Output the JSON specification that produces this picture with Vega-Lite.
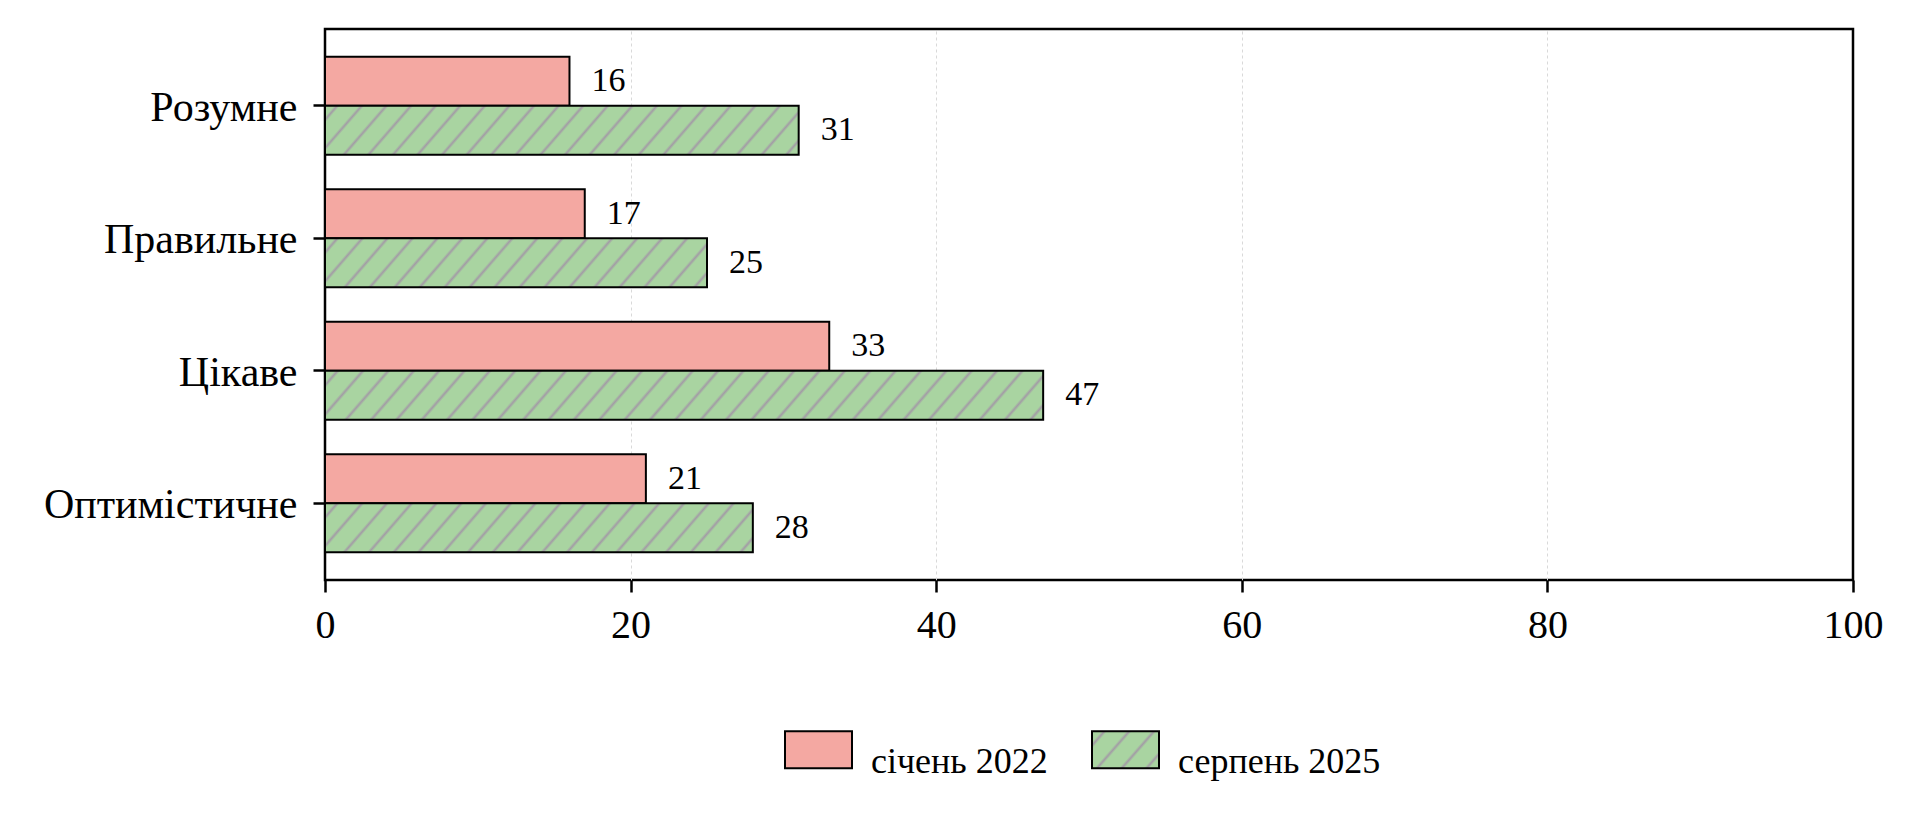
{
  "$schema": "https://vega.github.io/schema/vega-lite/v6.json",
  "width": 1528,
  "height": 551,
  "autosize": {"type": "none"},
  "padding": {"left": 325, "top": 29, "right": 61, "bottom": 242},
  "background": "white",
  "config": {
    "font": "Liberation Serif",
    "view": {"stroke": "black", "strokeWidth": 2.5},
    "axis": {"labelFont": "Liberation Serif", "labelColor": "black", "tickColor": "black", "tickWidth": 2.5, "tickSize": 12, "domain": false, "title": null, "labelLimit": 600}
  },
  "data": {"values": [
    {"category": "Розумне", "series": "січень 2022", "value": 16},
    {"category": "Розумне", "series": "серпень 2025", "value": 31},
    {"category": "Правильне", "series": "січень 2022", "value": 17},
    {"category": "Правильне", "series": "серпень 2025", "value": 25},
    {"category": "Цікаве", "series": "січень 2022", "value": 33},
    {"category": "Цікаве", "series": "серпень 2025", "value": 47},
    {"category": "Оптимістичне", "series": "січень 2022", "value": 21},
    {"category": "Оптимістичне", "series": "серпень 2025", "value": 28}
  ]},
  "encoding": {
    "y": {"field": "category", "type": "nominal", "sort": ["Розумне", "Правильне", "Цікаве", "Оптимістичне"],
      "scale": {"paddingInner": 0.26, "paddingOuter": 0.209},
      "axis": {"labelFontSize": 42, "labelPadding": 16, "grid": false, "labelOffset": 2}},
    "yOffset": {"field": "series", "type": "nominal", "sort": ["січень 2022", "серпень 2025"], "scale": {"paddingInner": 0, "paddingOuter": 0}},
    "x": {"field": "value", "type": "quantitative", "scale": {"domain": [0, 100], "nice": false},
      "axis": {"values": [0, 20, 40, 60, 80, 100], "labelFontSize": 40, "labelPadding": 13, "grid": true, "gridColor": "#d9d9d9", "gridDash": [3, 3], "gridWidth": 1, "labelFlush": false,
        "gridOpacity": {"condition": {"test": "datum.value === 0 || datum.value === 100", "value": 0}, "value": 1}}}
  },
  "layer": [
    {
      "mark": {"type": "bar", "stroke": "black", "strokeWidth": 2, "opacity": 1},
      "encoding": {
        "fill": {
          "condition": [
            {"test": "datum.series === 'серпень 2025' && datum.category === 'Розумне'", "value": {"gradient": "linear", "x1": 0, "y1": 0, "x2": 1.0812, "y2": 0.0972, "stops": [
              {"offset": 0.0181, "color": "#a9d4a1"}, {"offset": 0.0238, "color": "#a39ba6"}, {"offset": 0.0295, "color": "#a9d4a1"},
              {"offset": 0.0657, "color": "#a9d4a1"}, {"offset": 0.0714, "color": "#a39ba6"}, {"offset": 0.0771, "color": "#a9d4a1"},
              {"offset": 0.1133, "color": "#a9d4a1"}, {"offset": 0.1190, "color": "#a39ba6"}, {"offset": 0.1248, "color": "#a9d4a1"},
              {"offset": 0.1610, "color": "#a9d4a1"}, {"offset": 0.1667, "color": "#a39ba6"}, {"offset": 0.1724, "color": "#a9d4a1"},
              {"offset": 0.2086, "color": "#a9d4a1"}, {"offset": 0.2143, "color": "#a39ba6"}, {"offset": 0.2200, "color": "#a9d4a1"},
              {"offset": 0.2562, "color": "#a9d4a1"}, {"offset": 0.2619, "color": "#a39ba6"}, {"offset": 0.2676, "color": "#a9d4a1"},
              {"offset": 0.3038, "color": "#a9d4a1"}, {"offset": 0.3095, "color": "#a39ba6"}, {"offset": 0.3152, "color": "#a9d4a1"},
              {"offset": 0.3514, "color": "#a9d4a1"}, {"offset": 0.3571, "color": "#a39ba6"}, {"offset": 0.3629, "color": "#a9d4a1"},
              {"offset": 0.3990, "color": "#a9d4a1"}, {"offset": 0.4048, "color": "#a39ba6"}, {"offset": 0.4105, "color": "#a9d4a1"},
              {"offset": 0.4467, "color": "#a9d4a1"}, {"offset": 0.4524, "color": "#a39ba6"}, {"offset": 0.4581, "color": "#a9d4a1"},
              {"offset": 0.4943, "color": "#a9d4a1"}, {"offset": 0.5000, "color": "#a39ba6"}, {"offset": 0.5057, "color": "#a9d4a1"},
              {"offset": 0.5419, "color": "#a9d4a1"}, {"offset": 0.5476, "color": "#a39ba6"}, {"offset": 0.5533, "color": "#a9d4a1"},
              {"offset": 0.5895, "color": "#a9d4a1"}, {"offset": 0.5952, "color": "#a39ba6"}, {"offset": 0.6010, "color": "#a9d4a1"},
              {"offset": 0.6371, "color": "#a9d4a1"}, {"offset": 0.6429, "color": "#a39ba6"}, {"offset": 0.6486, "color": "#a9d4a1"},
              {"offset": 0.6848, "color": "#a9d4a1"}, {"offset": 0.6905, "color": "#a39ba6"}, {"offset": 0.6962, "color": "#a9d4a1"},
              {"offset": 0.7324, "color": "#a9d4a1"}, {"offset": 0.7381, "color": "#a39ba6"}, {"offset": 0.7438, "color": "#a9d4a1"},
              {"offset": 0.7800, "color": "#a9d4a1"}, {"offset": 0.7857, "color": "#a39ba6"}, {"offset": 0.7914, "color": "#a9d4a1"},
              {"offset": 0.8276, "color": "#a9d4a1"}, {"offset": 0.8333, "color": "#a39ba6"}, {"offset": 0.8390, "color": "#a9d4a1"},
              {"offset": 0.8752, "color": "#a9d4a1"}, {"offset": 0.8810, "color": "#a39ba6"}, {"offset": 0.8867, "color": "#a9d4a1"},
              {"offset": 0.9229, "color": "#a9d4a1"}, {"offset": 0.9286, "color": "#a39ba6"}, {"offset": 0.9343, "color": "#a9d4a1"},
              {"offset": 0.9705, "color": "#a9d4a1"}, {"offset": 0.9762, "color": "#a39ba6"}, {"offset": 0.9819, "color": "#a9d4a1"}
            ]}},
            {"test": "datum.series === 'серпень 2025' && datum.category === 'Правильне'", "value": {"gradient": "linear", "x1": 0, "y1": 0, "x2": 1.0979, "y2": 0.1224, "stops": [
              {"offset": 0.0224, "color": "#a9d4a1"}, {"offset": 0.0294, "color": "#a39ba6"}, {"offset": 0.0365, "color": "#a9d4a1"},
              {"offset": 0.0812, "color": "#a9d4a1"}, {"offset": 0.0882, "color": "#a39ba6"}, {"offset": 0.0953, "color": "#a9d4a1"},
              {"offset": 0.1400, "color": "#a9d4a1"}, {"offset": 0.1471, "color": "#a39ba6"}, {"offset": 0.1541, "color": "#a9d4a1"},
              {"offset": 0.1988, "color": "#a9d4a1"}, {"offset": 0.2059, "color": "#a39ba6"}, {"offset": 0.2129, "color": "#a9d4a1"},
              {"offset": 0.2576, "color": "#a9d4a1"}, {"offset": 0.2647, "color": "#a39ba6"}, {"offset": 0.2718, "color": "#a9d4a1"},
              {"offset": 0.3165, "color": "#a9d4a1"}, {"offset": 0.3235, "color": "#a39ba6"}, {"offset": 0.3306, "color": "#a9d4a1"},
              {"offset": 0.3753, "color": "#a9d4a1"}, {"offset": 0.3824, "color": "#a39ba6"}, {"offset": 0.3894, "color": "#a9d4a1"},
              {"offset": 0.4341, "color": "#a9d4a1"}, {"offset": 0.4412, "color": "#a39ba6"}, {"offset": 0.4482, "color": "#a9d4a1"},
              {"offset": 0.4929, "color": "#a9d4a1"}, {"offset": 0.5000, "color": "#a39ba6"}, {"offset": 0.5071, "color": "#a9d4a1"},
              {"offset": 0.5518, "color": "#a9d4a1"}, {"offset": 0.5588, "color": "#a39ba6"}, {"offset": 0.5659, "color": "#a9d4a1"},
              {"offset": 0.6106, "color": "#a9d4a1"}, {"offset": 0.6176, "color": "#a39ba6"}, {"offset": 0.6247, "color": "#a9d4a1"},
              {"offset": 0.6694, "color": "#a9d4a1"}, {"offset": 0.6765, "color": "#a39ba6"}, {"offset": 0.6835, "color": "#a9d4a1"},
              {"offset": 0.7282, "color": "#a9d4a1"}, {"offset": 0.7353, "color": "#a39ba6"}, {"offset": 0.7424, "color": "#a9d4a1"},
              {"offset": 0.7871, "color": "#a9d4a1"}, {"offset": 0.7941, "color": "#a39ba6"}, {"offset": 0.8012, "color": "#a9d4a1"},
              {"offset": 0.8459, "color": "#a9d4a1"}, {"offset": 0.8529, "color": "#a39ba6"}, {"offset": 0.8600, "color": "#a9d4a1"},
              {"offset": 0.9047, "color": "#a9d4a1"}, {"offset": 0.9118, "color": "#a39ba6"}, {"offset": 0.9188, "color": "#a9d4a1"},
              {"offset": 0.9635, "color": "#a9d4a1"}, {"offset": 0.9706, "color": "#a39ba6"}, {"offset": 0.9776, "color": "#a9d4a1"}
            ]}},
            {"test": "datum.series === 'серпень 2025' && datum.category === 'Цікаве'", "value": {"gradient": "linear", "x1": 0, "y1": 0, "x2": 1.0556, "y2": 0.0626, "stops": [
              {"offset": 0.0127, "color": "#a9d4a1"}, {"offset": 0.0167, "color": "#a39ba6"}, {"offset": 0.0207, "color": "#a9d4a1"},
              {"offset": 0.0460, "color": "#a9d4a1"}, {"offset": 0.0500, "color": "#a39ba6"}, {"offset": 0.0540, "color": "#a9d4a1"},
              {"offset": 0.0793, "color": "#a9d4a1"}, {"offset": 0.0833, "color": "#a39ba6"}, {"offset": 0.0873, "color": "#a9d4a1"},
              {"offset": 0.1127, "color": "#a9d4a1"}, {"offset": 0.1167, "color": "#a39ba6"}, {"offset": 0.1207, "color": "#a9d4a1"},
              {"offset": 0.1460, "color": "#a9d4a1"}, {"offset": 0.1500, "color": "#a39ba6"}, {"offset": 0.1540, "color": "#a9d4a1"},
              {"offset": 0.1793, "color": "#a9d4a1"}, {"offset": 0.1833, "color": "#a39ba6"}, {"offset": 0.1873, "color": "#a9d4a1"},
              {"offset": 0.2127, "color": "#a9d4a1"}, {"offset": 0.2167, "color": "#a39ba6"}, {"offset": 0.2207, "color": "#a9d4a1"},
              {"offset": 0.2460, "color": "#a9d4a1"}, {"offset": 0.2500, "color": "#a39ba6"}, {"offset": 0.2540, "color": "#a9d4a1"},
              {"offset": 0.2793, "color": "#a9d4a1"}, {"offset": 0.2833, "color": "#a39ba6"}, {"offset": 0.2873, "color": "#a9d4a1"},
              {"offset": 0.3127, "color": "#a9d4a1"}, {"offset": 0.3167, "color": "#a39ba6"}, {"offset": 0.3207, "color": "#a9d4a1"},
              {"offset": 0.3460, "color": "#a9d4a1"}, {"offset": 0.3500, "color": "#a39ba6"}, {"offset": 0.3540, "color": "#a9d4a1"},
              {"offset": 0.3793, "color": "#a9d4a1"}, {"offset": 0.3833, "color": "#a39ba6"}, {"offset": 0.3873, "color": "#a9d4a1"},
              {"offset": 0.4127, "color": "#a9d4a1"}, {"offset": 0.4167, "color": "#a39ba6"}, {"offset": 0.4207, "color": "#a9d4a1"},
              {"offset": 0.4460, "color": "#a9d4a1"}, {"offset": 0.4500, "color": "#a39ba6"}, {"offset": 0.4540, "color": "#a9d4a1"},
              {"offset": 0.4793, "color": "#a9d4a1"}, {"offset": 0.4833, "color": "#a39ba6"}, {"offset": 0.4873, "color": "#a9d4a1"},
              {"offset": 0.5127, "color": "#a9d4a1"}, {"offset": 0.5167, "color": "#a39ba6"}, {"offset": 0.5207, "color": "#a9d4a1"},
              {"offset": 0.5460, "color": "#a9d4a1"}, {"offset": 0.5500, "color": "#a39ba6"}, {"offset": 0.5540, "color": "#a9d4a1"},
              {"offset": 0.5793, "color": "#a9d4a1"}, {"offset": 0.5833, "color": "#a39ba6"}, {"offset": 0.5873, "color": "#a9d4a1"},
              {"offset": 0.6127, "color": "#a9d4a1"}, {"offset": 0.6167, "color": "#a39ba6"}, {"offset": 0.6207, "color": "#a9d4a1"},
              {"offset": 0.6460, "color": "#a9d4a1"}, {"offset": 0.6500, "color": "#a39ba6"}, {"offset": 0.6540, "color": "#a9d4a1"},
              {"offset": 0.6793, "color": "#a9d4a1"}, {"offset": 0.6833, "color": "#a39ba6"}, {"offset": 0.6873, "color": "#a9d4a1"},
              {"offset": 0.7127, "color": "#a9d4a1"}, {"offset": 0.7167, "color": "#a39ba6"}, {"offset": 0.7207, "color": "#a9d4a1"},
              {"offset": 0.7460, "color": "#a9d4a1"}, {"offset": 0.7500, "color": "#a39ba6"}, {"offset": 0.7540, "color": "#a9d4a1"},
              {"offset": 0.7793, "color": "#a9d4a1"}, {"offset": 0.7833, "color": "#a39ba6"}, {"offset": 0.7873, "color": "#a9d4a1"},
              {"offset": 0.8127, "color": "#a9d4a1"}, {"offset": 0.8167, "color": "#a39ba6"}, {"offset": 0.8207, "color": "#a9d4a1"},
              {"offset": 0.8460, "color": "#a9d4a1"}, {"offset": 0.8500, "color": "#a39ba6"}, {"offset": 0.8540, "color": "#a9d4a1"},
              {"offset": 0.8793, "color": "#a9d4a1"}, {"offset": 0.8833, "color": "#a39ba6"}, {"offset": 0.8873, "color": "#a9d4a1"},
              {"offset": 0.9127, "color": "#a9d4a1"}, {"offset": 0.9167, "color": "#a39ba6"}, {"offset": 0.9207, "color": "#a9d4a1"},
              {"offset": 0.9460, "color": "#a9d4a1"}, {"offset": 0.9500, "color": "#a39ba6"}, {"offset": 0.9540, "color": "#a9d4a1"},
              {"offset": 0.9793, "color": "#a9d4a1"}, {"offset": 0.9833, "color": "#a39ba6"}, {"offset": 0.9873, "color": "#a9d4a1"}
            ]}},
            {"test": "datum.series === 'серпень 2025' && datum.category === 'Оптимістичне'", "value": {"gradient": "linear", "x1": 0, "y1": 0, "x2": 1.0888, "y2": 0.1084, "stops": [
              {"offset": 0.0200, "color": "#a9d4a1"}, {"offset": 0.0263, "color": "#a39ba6"}, {"offset": 0.0326, "color": "#a9d4a1"},
              {"offset": 0.0726, "color": "#a9d4a1"}, {"offset": 0.0789, "color": "#a39ba6"}, {"offset": 0.0853, "color": "#a9d4a1"},
              {"offset": 0.1253, "color": "#a9d4a1"}, {"offset": 0.1316, "color": "#a39ba6"}, {"offset": 0.1379, "color": "#a9d4a1"},
              {"offset": 0.1779, "color": "#a9d4a1"}, {"offset": 0.1842, "color": "#a39ba6"}, {"offset": 0.1905, "color": "#a9d4a1"},
              {"offset": 0.2305, "color": "#a9d4a1"}, {"offset": 0.2368, "color": "#a39ba6"}, {"offset": 0.2432, "color": "#a9d4a1"},
              {"offset": 0.2832, "color": "#a9d4a1"}, {"offset": 0.2895, "color": "#a39ba6"}, {"offset": 0.2958, "color": "#a9d4a1"},
              {"offset": 0.3358, "color": "#a9d4a1"}, {"offset": 0.3421, "color": "#a39ba6"}, {"offset": 0.3484, "color": "#a9d4a1"},
              {"offset": 0.3884, "color": "#a9d4a1"}, {"offset": 0.3947, "color": "#a39ba6"}, {"offset": 0.4011, "color": "#a9d4a1"},
              {"offset": 0.4411, "color": "#a9d4a1"}, {"offset": 0.4474, "color": "#a39ba6"}, {"offset": 0.4537, "color": "#a9d4a1"},
              {"offset": 0.4937, "color": "#a9d4a1"}, {"offset": 0.5000, "color": "#a39ba6"}, {"offset": 0.5063, "color": "#a9d4a1"},
              {"offset": 0.5463, "color": "#a9d4a1"}, {"offset": 0.5526, "color": "#a39ba6"}, {"offset": 0.5589, "color": "#a9d4a1"},
              {"offset": 0.5989, "color": "#a9d4a1"}, {"offset": 0.6053, "color": "#a39ba6"}, {"offset": 0.6116, "color": "#a9d4a1"},
              {"offset": 0.6516, "color": "#a9d4a1"}, {"offset": 0.6579, "color": "#a39ba6"}, {"offset": 0.6642, "color": "#a9d4a1"},
              {"offset": 0.7042, "color": "#a9d4a1"}, {"offset": 0.7105, "color": "#a39ba6"}, {"offset": 0.7168, "color": "#a9d4a1"},
              {"offset": 0.7568, "color": "#a9d4a1"}, {"offset": 0.7632, "color": "#a39ba6"}, {"offset": 0.7695, "color": "#a9d4a1"},
              {"offset": 0.8095, "color": "#a9d4a1"}, {"offset": 0.8158, "color": "#a39ba6"}, {"offset": 0.8221, "color": "#a9d4a1"},
              {"offset": 0.8621, "color": "#a9d4a1"}, {"offset": 0.8684, "color": "#a39ba6"}, {"offset": 0.8747, "color": "#a9d4a1"},
              {"offset": 0.9147, "color": "#a9d4a1"}, {"offset": 0.9211, "color": "#a39ba6"}, {"offset": 0.9274, "color": "#a9d4a1"},
              {"offset": 0.9674, "color": "#a9d4a1"}, {"offset": 0.9737, "color": "#a39ba6"}, {"offset": 0.9800, "color": "#a9d4a1"}
            ]}}
          ],
          "field": "series",
          "type": "nominal",
          "scale": {"domain": ["січень 2022", "серпень 2025"], "range": ["#f4a8a2", {"expr": "{gradient: 'linear', x1: 0, y1: 0, x2: 1.2029, y2: 0.5774, stops: [{offset: 0.095, color: '#a9d4a1'}, {offset: 0.125, color: '#a39ba6'}, {offset: 0.155, color: '#a9d4a1'}, {offset: 0.345, color: '#a9d4a1'}, {offset: 0.375, color: '#a39ba6'}, {offset: 0.405, color: '#a9d4a1'}, {offset: 0.595, color: '#a9d4a1'}, {offset: 0.625, color: '#a39ba6'}, {offset: 0.655, color: '#a9d4a1'}, {offset: 0.845, color: '#a9d4a1'}, {offset: 0.875, color: '#a39ba6'}, {offset: 0.905, color: '#a9d4a1'}]}"}]},
          "legend": {
            "title": null,
            "orient": "none",
            "legendX": 459,
            "legendY": 686,
            "padding": 0,
            "direction": "horizontal",
            "symbolType": "M-1,-0.55H1V0.55H-1Z",
            "symbolSize": 4489,
            "symbolStrokeColor": "black",
            "symbolStrokeWidth": 2,
            "symbolOpacity": 1,
            "labelFont": "Liberation Serif",
            "labelFontSize": 36,
            "labelColor": "black",
            "labelLimit": 600,
            "labelOffset": 18,
            "columnPadding": 40,
            "encode": {
              "labels": {"update": {"dy": {"value": 12}}},
              "symbols": {"update": {
                "stroke": {"value": "black"},
                "strokeWidth": {"value": 2}
              }}
            }
          }
        }
      }
    },
    {
      "mark": {"type": "text", "align": "left", "baseline": "middle", "dx": 22, "fontSize": 34, "font": "Liberation Serif", "color": "black"},
      "encoding": {
        "text": {"field": "value", "type": "quantitative"}
      }
    }
  ]
}
